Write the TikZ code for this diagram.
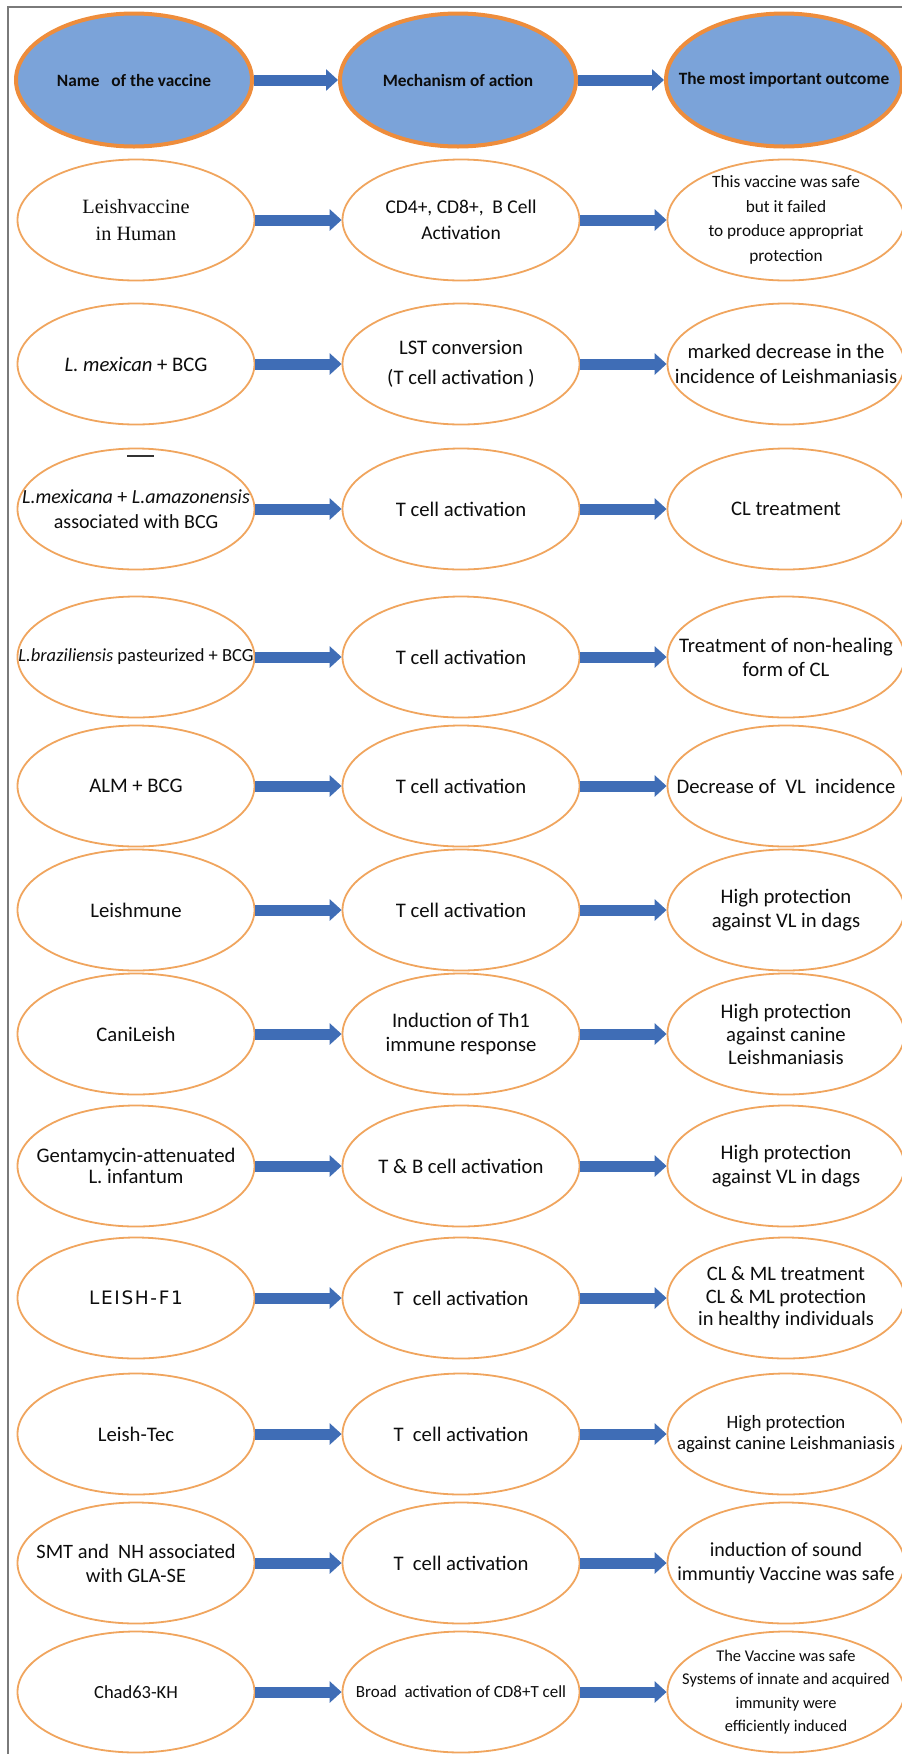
\documentclass[tikz,border=0pt]{standalone}
\usepackage{fontspec}
\setmainfont{Carlito}
\newfontfamily\timescell{Liberation Serif}
\newfontfamily\widecell[LetterSpace=9]{DejaVu Sans}
\usetikzlibrary{shapes.geometric, arrows.meta}
\definecolor{cellorange}{HTML}{F0A55E}
\definecolor{headorange}{HTML}{EE8D3C}
\definecolor{headblue}{HTML}{7BA3D9}
\definecolor{arrowblue}{HTML}{3F6DB6}
\definecolor{framegray}{HTML}{7A7A7A}
\newcommand{\cellfont}[2]{\fontsize{#1}{#2}\selectfont}
\begin{document}
\begin{tikzpicture}[x=1pt, y=-1pt,
    cell/.style={ellipse, draw=cellorange, line width=1.8pt, fill=white,
        minimum width=237pt, minimum height=121pt, inner xsep=-80pt, inner ysep=-40pt,
        align=center, text=black!95, font=\cellfont{20.7}{25}},
    headcell/.style={cell, draw=headorange, line width=4pt, fill=headblue,
        minimum width=236pt, minimum height=133pt, font=\bfseries\cellfont{17.3}{21}},
    blockarrow/.style={draw=arrowblue, line width=11pt, -{Triangle[length=12pt, width=21pt]}}]
    \useasboundingbox (0,0) rectangle (902,1754);
    \draw[framegray, line width=1.2pt] (8,1754) -- (8,7) -- (902,7); % khung
    % hang tieu de
    \node[headcell] (h1) at (134,80) {Name\ \ \ of the vaccine};
    \node[headcell] (h2) at (458,80) {Mechanism of action};
    \node[headcell] (h3) at (784,80) {The most important outcome};
    % cot 1: vaccine
    \node[cell, font=\timescell\cellfont{20.3}{27}] (a1) at (136,220) {Leishvaccine\\in Human};
    \node[cell] (a2) at (136,364) {\textit{L. mexican} + BCG};
    \node[cell, font=\cellfont{20}{25}] (a3) at (136,509) {\textit{L.mexicana} + \textit{L.amazonensis}\\associated with BCG};
    \node[cell, font=\cellfont{18.5}{22}] (a4) at (136,657) {\textit{L.braziliensis} pasteurized + BCG};
    \node[cell] (a5) at (136,786) {ALM + BCG};
    \node[cell] (a6) at (136,910) {Leishmune};
    \node[cell] (a7) at (136,1034) {CaniLeish};
    \node[cell, font=\cellfont{20.7}{21.5}] (a8) at (136,1166) {Gentamycin-attenuated\\L. infantum};
    \node[cell, font=\widecell\cellfont{18.5}{22}] (a9) at (136,1298) {LEISH-F1};
    \node[cell] (a10) at (136,1434) {Leish-Tec};
    \node[cell, font=\cellfont{20.4}{24}] (a11) at (136,1563) {SMT and\ \ NH associated\\with GLA-SE};
    \node[cell, font=\cellfont{18.5}{22}] (a12) at (136,1692) {Chad63-KH};
    % cot 2: co che
    \node[cell, font=\cellfont{19.5}{26}] (b1) at (461,220) {CD4+,\ CD8+,\ \ B Cell\\Activation};
    \node[cell, font=\cellfont{20.7}{30}] (b2) at (461,364) {LST conversion\\(T cell activation )};
    \node[cell] (b3) at (461,509) {T cell activation};
    \node[cell] (b4) at (461,657) {T cell activation};
    \node[cell] (b5) at (461,786) {T cell activation};
    \node[cell] (b6) at (461,910) {T cell activation};
    \node[cell, font=\cellfont{20.7}{24}] (b7) at (461,1034) {Induction of Th1\\immune response};
    \node[cell] (b8) at (461,1166) {T \& B cell activation};
    \node[cell] (b9) at (461,1298) {T\ \ cell activation};
    \node[cell] (b10) at (461,1434) {T\ \ cell activation};
    \node[cell] (b11) at (461,1563) {T\ \ cell activation};
    \node[cell, font=\cellfont{17}{21}] (b12) at (461,1692) {Broad\ \ activation of CD8+T cell};
    % cot 3: ket qua
    \node[cell, font=\cellfont{17.3}{24.5}] (c1) at (786,220) {This vaccine was safe\\but it failed\\to produce appropriat\\protection};
    \node[cell] (c2) at (786,364) {marked decrease in the\\incidence of Leishmaniasis};
    \node[cell] (c3) at (786,509) {CL treatment};
    \node[cell, font=\cellfont{20.7}{24}] (c4) at (786,657) {Treatment of non-healing\\form of CL};
    \node[cell] (c5) at (786,786) {Decrease of\ \ VL\ \ incidence};
    \node[cell, font=\cellfont{20.7}{24}] (c6) at (786,910) {High protection\\against VL in dags};
    \node[cell, font=\cellfont{20.7}{23}] (c7) at (786,1034) {High protection\\against canine\\Leishmaniasis};
    \node[cell, font=\cellfont{20.7}{24}] (c8) at (786,1166) {High protection\\against VL in dags};
    \node[cell, font=\cellfont{20.5}{22.5}] (c9) at (786,1298) {CL \& ML treatment\\CL \& ML protection\\in healthy individuals};
    \node[cell, font=\cellfont{18.8}{21.5}] (c10) at (786,1434) {High protection\\against canine Leishmaniasis};
    \node[cell, font=\cellfont{20}{24}] (c11) at (786,1563) {induction of sound\\immuntiy Vaccine was safe};
    \node[cell, font=\cellfont{16.4}{23.5}] (c12) at (786,1692) {The Vaccine was safe\\Systems of innate and acquired\\immunity were\\efficiently induced};
    \draw[black!80, line width=1.5pt] (127,456) -- (154,456); % gach nho
    % mui ten
    \draw[blockarrow] (h1) -- (h2);
    \draw[blockarrow] (h2) -- (h3);
    \foreach \r in {1,...,12}{
        \draw[blockarrow] (a\r) -- (b\r);
        \draw[blockarrow] (b\r) -- (c\r);
    }
\end{tikzpicture}
\end{document}
